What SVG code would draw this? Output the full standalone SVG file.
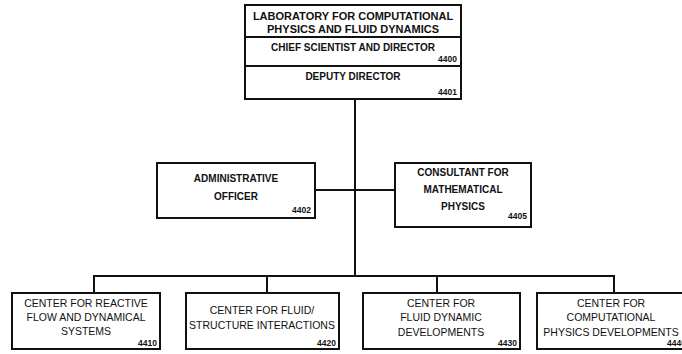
<svg xmlns="http://www.w3.org/2000/svg" width="682" height="354" viewBox="0 0 682 354">
<style>
.box{fill:#fff;stroke:#111;stroke-width:2}
.ln{fill:none;stroke:#111;stroke-width:2}
text{font-family:"Liberation Sans",Arial,sans-serif;fill:#111;text-anchor:middle}
.t{font-size:11px;font-weight:bold}
.m{font-size:10px;font-weight:bold}
.b{font-size:10.5px}
.n{font-size:8.5px;font-weight:bold;text-anchor:end}
</style>
<rect width="682" height="354" fill="#fff"/>
<g id="connectors">
<path class="ln" d="M355 99 V276"/>
<path class="ln" d="M315 190 H395"/>
<path class="ln" d="M94 293 V276 H614 V293"/>
<path class="ln" d="M267 276 V293"/>
<path class="ln" d="M437 276 V293"/>
</g>
<g id="lab">
<rect class="box" x="245" y="5" width="216" height="94"/>
<path class="ln" d="M245 37 H461 M245 66 H461"/>
<text class="t" x="353" y="20">LABORATORY FOR COMPUTATIONAL</text>
<text class="t" x="353" y="33">PHYSICS AND FLUID DYNAMICS</text>
<text class="m" x="353" y="51">CHIEF SCIENTIST AND DIRECTOR</text>
<text class="n" x="457" y="62">4400</text>
<text class="m" x="353" y="80">DEPUTY DIRECTOR</text>
<text class="n" x="457" y="95">4401</text>
</g>
<g id="admin">
<rect class="box" x="157" y="163" width="158" height="55"/>
<text class="m" x="236" y="182">ADMINISTRATIVE</text>
<text class="m" x="236" y="200">OFFICER</text>
<text class="n" x="311" y="213">4402</text>
</g>
<g id="consultant">
<rect class="box" x="395" y="163" width="136" height="64"/>
<text class="m" x="463" y="176">CONSULTANT FOR</text>
<text class="m" x="463" y="193">MATHEMATICAL</text>
<text class="m" x="463" y="210">PHYSICS</text>
<text class="n" x="527" y="219">4405</text>
</g>
<g id="c4410">
<rect class="box" x="12" y="293" width="148" height="56"/>
<text class="b" x="86" y="307">CENTER FOR REACTIVE</text>
<text class="b" x="86" y="321">FLOW AND DYNAMICAL</text>
<text class="b" x="86" y="335">SYSTEMS</text>
<text class="n" x="157" y="346">4410</text>
</g>
<g id="c4420">
<rect class="box" x="186" y="293" width="153" height="56"/>
<text class="b" x="262" y="314">CENTER FOR FLUID/</text>
<text class="b" x="262" y="329">STRUCTURE INTERACTIONS</text>
<text class="n" x="336" y="346">4420</text>
</g>
<g id="c4430">
<rect class="box" x="363" y="293" width="157" height="56"/>
<text class="b" x="441" y="307">CENTER FOR</text>
<text class="b" x="441" y="321">FLUID DYNAMIC</text>
<text class="b" x="441" y="336">DEVELOPMENTS</text>
<text class="n" x="517" y="346">4430</text>
</g>
<g id="c4440">
<rect class="box" x="537" y="293" width="152" height="56"/>
<text class="b" x="611" y="307">CENTER FOR</text>
<text class="b" x="611" y="321">COMPUTATIONAL</text>
<text class="b" x="611" y="336">PHYSICS DEVELOPMENTS</text>
<text class="n" x="686" y="346">4440</text>
</g>
</svg>
